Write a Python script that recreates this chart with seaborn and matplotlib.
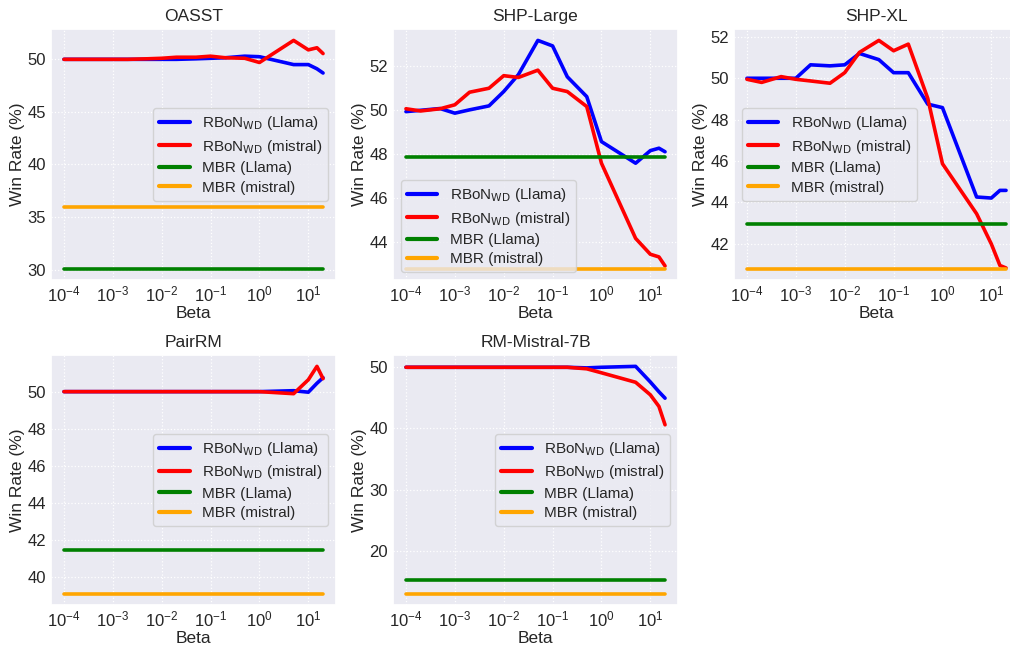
import numpy as np
import pandas as pd
import matplotlib
matplotlib.use("Agg")
import matplotlib.pyplot as plt
from matplotlib.ticker import LogLocator
import seaborn as sns

# ---------------- data ----------------
betas = [1e-4, 2e-4, 5e-4, 1e-3, 2e-3, 5e-3, 1e-2, 2e-2, 5e-2,
         1e-1, 2e-1, 5e-1, 1, 5, 10, 15, 20]

titles = ["OASST", "SHP-Large", "SHP-XL", "PairRM", "RM-Mistral-7B"]

oasst_llama = [50.0, 50.0, 50.0, 50.0, 50.0, 50.0, 50.0, 50.0, 50.05,
               50.1, 50.15, 50.3, 50.25, 49.5, 49.5, 49.1, 48.7]
oasst_mistral = [50.0, 50.0, 50.0, 50.0, 50.0, 50.05, 50.1, 50.2, 50.2,
                 50.3, 50.15, 50.1, 49.7, 51.8, 50.9, 51.1, 50.55]
oasst_mbr = [30.1, 36.0]

shpl_llama = [49.92, 49.98, 50.06, 49.85, 50.0, 50.18, 50.83, 51.6, 53.15,
              52.9, 51.5, 50.6, 48.56, 47.58, 48.15, 48.26, 48.1]
shpl_mistral = [50.05, 49.95, 50.05, 50.23, 50.8, 50.98, 51.55, 51.47, 51.8,
                50.98, 50.83, 50.15, 47.58, 44.17, 43.45, 43.33, 42.92]
shpl_mbr = [47.88, 42.8]

shpxl_llama = [50.0, 50.0, 50.0, 50.0, 50.65, 50.6, 50.65, 51.2, 50.9,
               50.27, 50.27, 48.75, 48.58, 44.26, 44.21, 44.58, 44.58]
shpxl_mistral = [49.95, 49.8, 50.08, 49.95, 49.87, 49.76, 50.27, 51.25, 51.83,
                 51.33, 51.65, 49.03, 45.87, 43.45, 41.99, 40.95, 40.83]
shpxl_mbr = [42.96, 40.8]

pair_llama = [50.0, 50.0, 50.0, 50.0, 50.0, 50.0, 50.0, 50.0, 50.0,
              50.0, 50.0, 50.0, 50.0, 50.05, 49.97, 50.45, 50.75]
pair_mistral = [50.0, 50.0, 50.0, 50.0, 50.0, 50.0, 50.0, 50.0, 50.0,
                50.0, 50.0, 50.0, 50.0, 49.89, 50.64, 51.36, 50.7]
pair_mbr = [41.5, 39.13]

rm_llama = [50.0, 50.0, 50.0, 50.0, 50.0, 50.0, 50.0, 50.0, 50.0,
            50.0, 50.0, 49.9, 50.0, 50.15, 47.6, 46.0, 44.95]
rm_mistral = [50.0, 50.0, 50.0, 50.0, 50.0, 50.0, 50.0, 50.0, 50.0,
              50.0, 50.0, 49.75, 49.1, 47.55, 45.5, 43.6, 40.6]
rm_mbr = [15.2, 13.0]

series_labels = [r"RBoN$_{\mathrm{WD}}$ (Llama)", r"RBoN$_{\mathrm{WD}}$ (mistral)",
                 "MBR (Llama)", "MBR (mistral)"]
series_colors = ["blue", "red", "green", "orange"]

panels = [
    (oasst_llama, oasst_mistral, oasst_mbr, "center right"),
    (shpl_llama, shpl_mistral, shpl_mbr, "lower left"),
    (shpxl_llama, shpxl_mistral, shpxl_mbr, "center left"),
    (pair_llama, pair_mistral, pair_mbr, "center right"),
    (rm_llama, rm_mistral, rm_mbr, "center right"),
]

# ---------------- style ----------------
sns.set_theme(style="darkgrid")
plt.rcParams["font.family"] = ["Liberation Sans", "DejaVu Sans"]
plt.rcParams["grid.linestyle"] = ":"
plt.rcParams["grid.linewidth"] = 0.9

fig = plt.figure(figsize=(10.1, 6.47), dpi=100)
W, H = 1010.0, 647.0
col_left = [51, 393, 734]
ax_w = 285
rows = [(29, 280), (355, 605)]

for i, (llama, mistral, mbr, loc) in enumerate(panels):
    r, c = divmod(i, 3)
    top, bot = rows[r]
    ax = fig.add_axes([col_left[c] / W, 1 - bot / H, ax_w / W, (bot - top) / H])
    df = pd.DataFrame({
        "beta": betas * 4,
        "win": list(llama) + list(mistral)
               + [mbr[0]] * len(betas) + [mbr[1]] * len(betas),
        "series": sum([[s] * len(betas) for s in series_labels], []),
    })
    sns.lineplot(data=df, x="beta", y="win", hue="series",
                 palette=dict(zip(series_labels, series_colors)),
                 hue_order=series_labels, linewidth=2.6, ax=ax, sort=False)
    ax.set_xscale("log")
    ax.xaxis.set_major_locator(LogLocator(base=10, numticks=20))
    ax.set_title(titles[i], fontsize=12.5, pad=6)
    ax.set_xlabel("Beta", fontsize=12.5, labelpad=1.5)
    ax.set_ylabel("Win Rate (%)", fontsize=12.5, labelpad=2)
    ax.tick_params(axis="both", which="both", length=0)
    ax.tick_params(axis="x", labelsize=12, pad=3)
    ax.tick_params(axis="y", labelsize=12, pad=3.5)
    leg = ax.legend(loc=loc, fontsize=11, frameon=True, labelspacing=0.35)
    for line in leg.get_lines():
        line.set_linewidth(3)

fig.savefig("out.png", dpi=100)
